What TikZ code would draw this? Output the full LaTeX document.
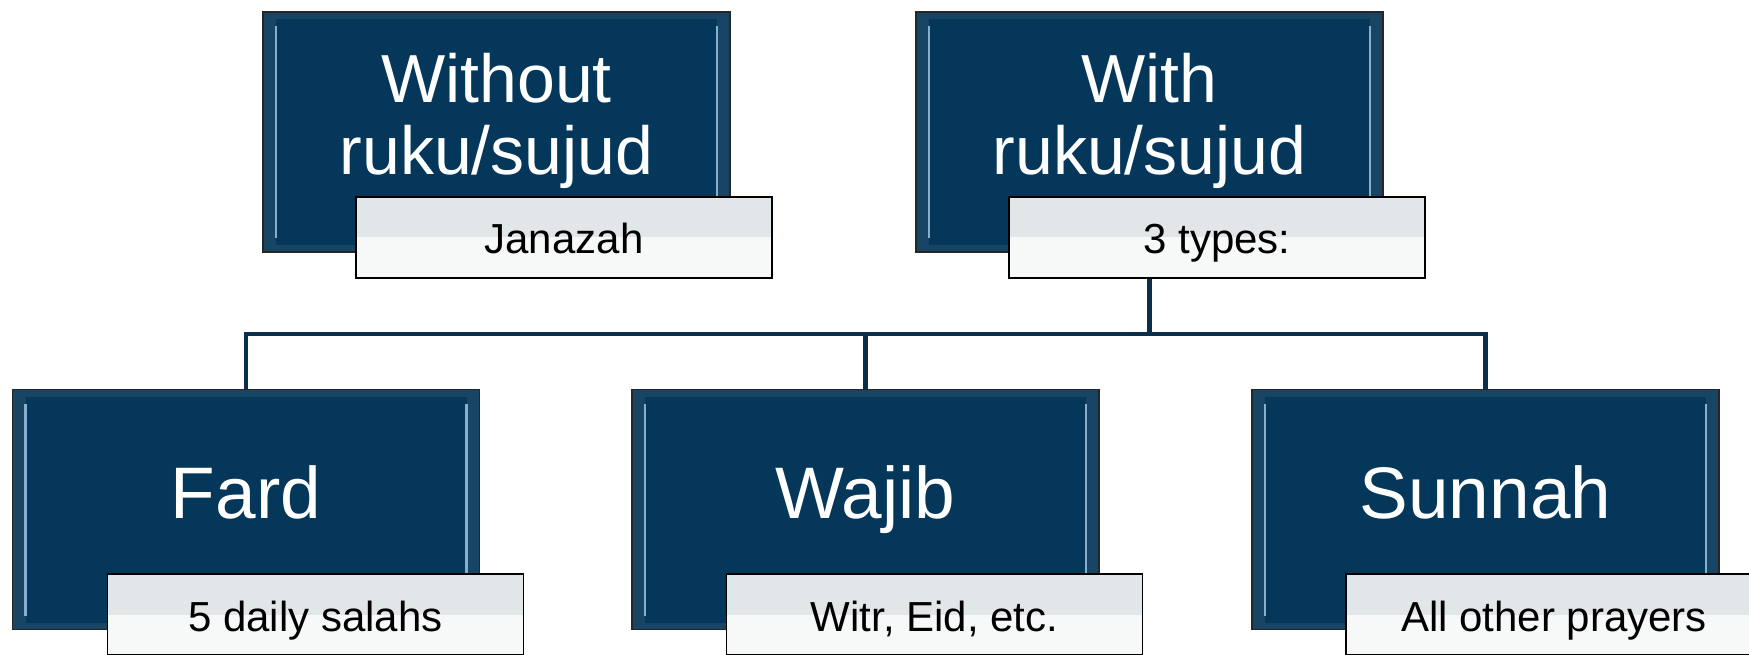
\documentclass[tikz,border=0pt]{standalone}
\usepackage{fontspec}
\setmainfont{Liberation Sans}
\usetikzlibrary{positioning}
\definecolor{boxblue}{HTML}{04375A}
\definecolor{bevelblue}{HTML}{174563}
\definecolor{edgeblue}{HTML}{86AFCB}
\definecolor{linkblue}{HTML}{0B2E49}
\definecolor{notetop}{HTML}{E1E6E9}
\definecolor{notebot}{HTML}{F7F8F8}
\tikzset{darkbox/.style = {rectangle, fill=bevelblue, draw=black!85, line width=1.2pt,
    minimum width=467pt, minimum height=240pt, inner sep=0,
    path picture={
      \fill[boxblue] ([xshift=13pt,yshift=-7pt]path picture bounding box.north west)
        rectangle ([xshift=-13pt,yshift=7pt]path picture bounding box.south east);
      \draw[edgeblue, line width=2.5pt] ([xshift=13pt,yshift=-14pt]path picture bounding box.north west)
        -- ([xshift=13pt,yshift=14pt]path picture bounding box.south west);
      \draw[edgeblue, line width=2.5pt] ([xshift=-13pt,yshift=-14pt]path picture bounding box.north east)
        -- ([xshift=-13pt,yshift=14pt]path picture bounding box.south east);
    }}}
\tikzset{notebox/.style = {rectangle, fill=notetop, draw=black, line width=1.5pt,
    minimum width=416pt, minimum height=81pt, inner sep=0,
    text height=33pt, text depth=0pt, font=\fontsize{42}{48}\selectfont,
    path picture={
      \fill[notebot] (path picture bounding box.west) rectangle (path picture bounding box.south east);
    }}}
\tikzset{title/.style = {text=white, align=center, inner sep=0}}
\tikzset{link/.style = {draw=linkblue, line width=4.5pt}}

\begin{document}
\begin{tikzpicture}[x=1pt, y=-1pt]
      \useasboundingbox (0,0) rectangle (1749,655);

      % upper row
      \node [darkbox] at (496.5, 132) (without) {};
      \node [darkbox] at (1149.5, 132) (with) {};

      % lower row
      \node [darkbox] at (246, 509.5) (fard) {};
      \node [darkbox] at (865.5, 509.5) (wajib) {};
      \node [darkbox] at (1485.5, 509.5) (sunnah) {};

      % connectors
      \coordinate (bus) at (1149.5, 334);
      \draw [link] (with.south) -- (bus);
      \draw [link] (bus) -| (fard.north);
      \draw [link] (bus) -| (wajib.north);
      \draw [link] (bus) -| (sunnah.north);

      \node [title, font=\fontsize{68}{72}\selectfont] at (496.5, 121) (withouttxt) {Without\\ruku/sujud};
      \node [title, font=\fontsize{68}{72}\selectfont] at (1149.5, 121) (withtxt) {With\\ruku/sujud};
      \node [title, anchor=base, font=\fontsize{73}{80}\selectfont] at (246, 518) (fardtxt) {Fard};
      \node [title, anchor=base, font=\fontsize{73}{80}\selectfont] at (865.5, 518) (wajibtxt) {Wajib};
      \node [title, anchor=base, font=\fontsize{73}{80}\selectfont] at (1485.5, 518) (sunnahtxt) {Sunnah};

      % notes
      \node [notebox] at (564, 237.5) (janazah) {Janazah};
      \node [notebox] at (1217, 237.5) (types) {3 types:};
      \node [notebox] at (315.5, 614.5) (daily) {5 daily salahs};
      \node [notebox] at (934.5, 614.5) (witr) {Witr, Eid, etc.};
      \node [notebox] at (1554, 614.5) (others) {All other prayers};
    \end{tikzpicture}
\end{document}
